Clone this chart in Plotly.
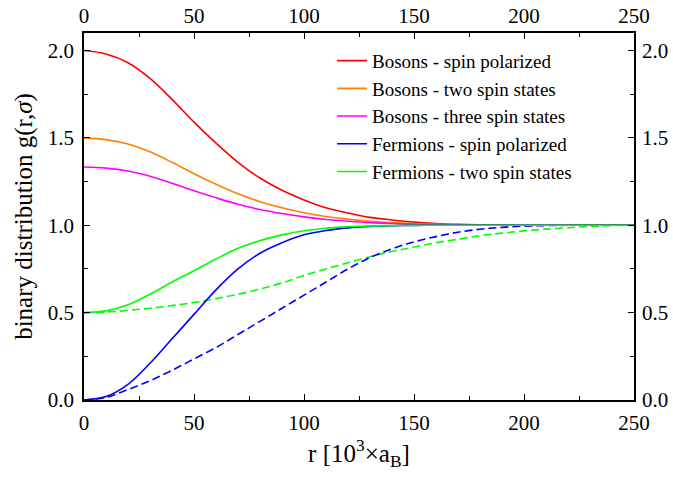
import plotly.graph_objects as go

r = [0, 10, 20, 30, 40, 50, 60, 70, 80, 90, 100, 110, 120, 130, 140, 150,
     160, 170, 180, 190, 200, 210, 220, 230, 240, 250]

bosons_pol = [2.0, 1.98, 1.93, 1.84, 1.72, 1.59, 1.47, 1.36, 1.27, 1.20, 1.145, 1.10,
              1.07, 1.045, 1.03, 1.018, 1.01, 1.005, 1.002, 1.001, 1.0, 1.0, 1.0, 1.0, 1.0, 1.0]
bosons_two = [1.5, 1.49, 1.465, 1.42, 1.36, 1.295, 1.235, 1.18, 1.135, 1.10, 1.072, 1.05,
              1.035, 1.022, 1.015, 1.009, 1.005, 1.002, 1.001, 1.0, 1.0, 1.0, 1.0, 1.0, 1.0, 1.0]
bosons_three = [1.333, 1.327, 1.31, 1.28, 1.24, 1.197, 1.157, 1.12, 1.09, 1.067, 1.048, 1.033,
                1.023, 1.015, 1.01, 1.006, 1.003, 1.002, 1.001, 1.0, 1.0, 1.0, 1.0, 1.0, 1.0, 1.0]
fermions_pol = [0.0, 0.02, 0.09, 0.21, 0.35, 0.49, 0.63, 0.75, 0.84, 0.90, 0.945, 0.97,
                0.985, 0.993, 0.997, 0.999, 1.0, 1.0, 1.0, 1.0, 1.0, 1.0, 1.0, 1.0, 1.0, 1.0]
fermions_two = [0.5, 0.51, 0.545, 0.605, 0.675, 0.74, 0.807, 0.868, 0.912, 0.945, 0.968, 0.983,
                0.991, 0.996, 0.998, 0.999, 1.0, 1.0, 1.0, 1.0, 1.0, 1.0, 1.0, 1.0, 1.0, 1.0]
fermions_pol_dashed = [0.0, 0.015, 0.06, 0.11, 0.17, 0.235, 0.30, 0.375, 0.45, 0.525, 0.60, 0.675,
                       0.75, 0.815, 0.865, 0.905, 0.935, 0.96, 0.977, 0.988, 0.995, 0.998, 1.0, 1.0, 1.0, 1.0]
fermions_two_dashed = [0.5, 0.503, 0.513, 0.525, 0.54, 0.558, 0.58, 0.605, 0.635, 0.67, 0.712, 0.75,
                       0.785, 0.82, 0.85, 0.875, 0.90, 0.92, 0.94, 0.955, 0.968, 0.978, 0.986, 0.993, 0.998, 1.0]

labels = ["Bosons - spin polarized", "Bosons - two spin states", "Bosons - three spin states",
          "Fermions - spin polarized", "Fermions - two spin states"]
colors = ["#ff0000", "#ff8000", "#ff00ff", "#0000ff", "#00ff00"]

FONT = "Liberation Serif, Times New Roman, serif"
fig = go.Figure()

fig.add_trace(go.Scatter(x=r, y=fermions_two_dashed, mode="lines", line_shape="spline",
                         line=dict(color=colors[4], width=1.6, dash="8px,4px"), showlegend=False))
fig.add_trace(go.Scatter(x=r, y=fermions_pol_dashed, mode="lines", line_shape="spline",
                         line=dict(color=colors[3], width=1.6, dash="8px,4px"), showlegend=False))

for ys, name, c in zip([bosons_pol, bosons_two, bosons_three, fermions_pol, fermions_two], labels, colors):
    fig.add_trace(go.Scatter(x=r, y=ys, mode="lines", line_shape="spline", name=name,
                             line=dict(color=c, width=1.6)))

fig.add_trace(go.Scatter(x=[0, 250], y=[1.0, 1.0], xaxis="x2", yaxis="y2", mode="lines",
                         line=dict(color="rgba(0,0,0,0)", width=0), showlegend=False, hoverinfo="skip"))

axis_common = dict(showline=True, linecolor="black", linewidth=1.6, ticks="inside", ticklen=6,
                   tickwidth=1.3, tickcolor="black", showgrid=False, zeroline=False, automargin=False,
                   autorange=False, tickfont=dict(family=FONT, size=21, color="black"))
minor_x = dict(dtick=25, ticks="inside", ticklen=4, tickwidth=1.3, tickcolor="black")
minor_y = dict(dtick=0.25, ticks="inside", ticklen=4, tickwidth=1.3, tickcolor="black")

fig.update_layout(
    width=673, height=477,
    margin=dict(l=84, r=39, t=33, b=77, autoexpand=False),
    plot_bgcolor="white", paper_bgcolor="white",
    font=dict(family=FONT, size=20, color="black"),
    xaxis=dict(range=[0, 250], dtick=50, tick0=0, minor=minor_x, ticklabelstandoff=3,
               title=dict(text="r [10<sup>3</sup>×a<sub>B</sub>]", font=dict(family=FONT, size=25), standoff=6),
               **axis_common),
    yaxis=dict(range=[0, 2.1], dtick=0.5, tick0=0, tickformat=".1f", minor=minor_y, ticklabelstandoff=4,
               title=dict(text="binary distribution g(r,<i>σ</i>)", font=dict(family=FONT, size=25), standoff=8),
               **axis_common),
    xaxis2=dict(range=[0, 250], dtick=50, tick0=0, overlaying="x", side="top", anchor="y",
                minor=minor_x, ticklabelstandoff=0, **axis_common),
    yaxis2=dict(range=[0, 2.1], dtick=0.5, tick0=0, tickformat=".1f", overlaying="y", side="right", anchor="x",
                minor=minor_y, ticklabelstandoff=2, **axis_common),
    legend=dict(x=0.451, y=0.976, xanchor="left", yanchor="top", bgcolor="rgba(0,0,0,0)",
                font=dict(family=FONT, size=19, color="black"), tracegroupgap=0),
)

# remove the default 8px page margin so the figure fills the window exactly
fig.write_html("out.html", config={"displayModeBar": False},
               post_script="document.body.style.margin='0';")
